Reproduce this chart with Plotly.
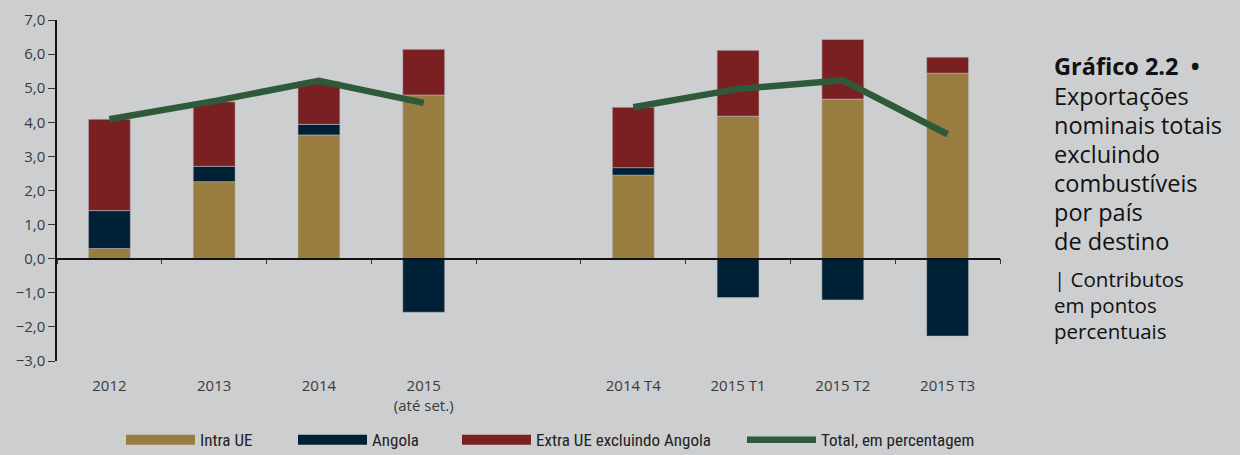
import plotly.graph_objects as go

categories = ["2012", "2013", "2014", "2015<br>(até set.)", " ", "2014 T4", "2015 T1", "2015 T2", "2015 T3"]
intra_ue = [0.30, 2.26, 3.63, 4.80, None, 2.45, 4.18, 4.68, 5.44]
angola = [1.11, 0.45, 0.31, -1.57, None, 0.22, -1.14, -1.21, -2.27]
extra_ue = [2.68, 1.89, 1.26, 1.34, None, 1.77, 1.93, 1.75, 0.47]
total = [4.09, 4.62, 5.22, 4.57, None, 4.44, 4.98, 5.23, 3.65]

series_names = ["Intra UE", "Angola", "Extra UE excluindo Angola", "Total, em percentagem"]
title_lines = ["<b>Gráfico 2.2&nbsp; •</b>", "Exportações", "nominais totais", "excluindo",
               "combustíveis", "por país", "de destino"]
subtitle_lines = ["| Contributos", "em pontos", "percentuais"]

C_INTRA = "#997c40"
C_ANG = "#002036"
C_EXTRA = "#7a2022"
C_TOTAL = "#2f5a3a"
BG = "#cdced0"
FONT = "Open Sans"
LEG_FONT = "Liberation Sans Narrow, Arial Narrow, Roboto Condensed, Roboto"

fig = go.Figure()
bar_line = dict(color="rgba(190,190,195,0.9)", width=0.6)
bar_series = [(intra_ue, C_INTRA, "legend"), (angola, C_ANG, "legend2"), (extra_ue, C_EXTRA, "legend3")]
for (vals, col, lg), nm in zip(bar_series, series_names[:3]):
    fig.add_trace(go.Bar(x=categories, y=vals, name=nm, marker=dict(color=col, line=bar_line),
                         width=0.4, showlegend=False, legendgroup=nm))
fig.add_trace(go.Scatter(x=categories, y=total, name=series_names[3], mode="lines",
                         line=dict(color=C_TOTAL, width=6.5), connectgaps=False,
                         legend="legend4"))
# legend swatches for the bar series (wide rectangles as in the original)
for (vals, col, lg), nm in zip(bar_series, series_names[:3]):
    fig.add_trace(go.Scatter(x=[None], y=[None], name=nm, mode="lines", legendgroup=nm,
                             line=dict(color=col, width=12), legend=lg, hoverinfo="skip"))
# invisible trace for the x axis drawn at zero
fig.add_trace(go.Scatter(x=categories, y=[0] * len(categories), xaxis="x2", mode="lines",
                         line=dict(width=0), showlegend=False, hoverinfo="skip"))

def lx(pix):
    return (pix - 57) / 943

leg_common = dict(orientation="h", y=-0.232, xanchor="left", yanchor="middle",
                  font=dict(family=LEG_FONT, size=17, color="#222222"),
                  bgcolor="rgba(0,0,0,0)", itemwidth=69)

fig.update_layout(
    barmode="relative",
    width=1240, height=455,
    paper_bgcolor=BG, plot_bgcolor=BG,
    margin=dict(l=57, r=240, t=20, b=94, autoexpand=False),
    separators=",.",
    font=dict(family=FONT, size=15, color="#3a3a3a"),
    showlegend=True,
    legend=dict(x=lx(121), **leg_common),
    legend2=dict(x=lx(293), **leg_common),
    legend3=dict(x=lx(457), **leg_common),
    legend4=dict(x=lx(742), **leg_common),
    xaxis=dict(type="category", categoryorder="array", categoryarray=categories,
               range=[-0.5, 8.5], showline=False, ticks="", showgrid=False, zeroline=False,
               automargin=False,
               tickfont=dict(size=15, color="#3a3a3a"), ticklabelstandoff=14),
    xaxis2=dict(type="category", categoryorder="array", categoryarray=categories,
                range=[-0.5, 8.5], overlaying="x", anchor="free", position=0.3,
                showline=True, linecolor="#111111", linewidth=1.5,
                ticks="outside", tickson="boundaries", ticklen=5, tickcolor="#333333",
                showticklabels=False, showgrid=False, zeroline=False, automargin=False),
    yaxis=dict(range=[-3, 7], dtick=1, tickformat=".1f", showgrid=False, zeroline=False,
               showline=True, linecolor="#111111", linewidth=1.5, automargin=False,
               ticks="outside", ticklen=7, tickcolor="#333333",
               tickfont=dict(size=15, color="#3a3a3a")),
)

def py(pix):
    return (361 - pix) / 341

xp = (1052 - 57) / 943
title_y = [66, 96, 125, 154, 183, 212, 241]
for txt, yy in zip(title_lines, title_y):
    fig.add_annotation(text=txt, x=xp, y=py(yy), xref="paper", yref="paper",
                       xanchor="left", yanchor="middle", showarrow=False,
                       font=dict(family=FONT, size=23.5, color="#111111"))
sub_y = [279, 305, 331]
for txt, yy in zip(subtitle_lines, sub_y):
    fig.add_annotation(text=txt, x=xp, y=py(yy), xref="paper", yref="paper",
                       xanchor="left", yanchor="middle", showarrow=False,
                       font=dict(family=FONT, size=20.5, color="#111111"))

fig.write_html("out.html", config={"displayModeBar": False},
               post_script="document.body.style.margin='0';")
